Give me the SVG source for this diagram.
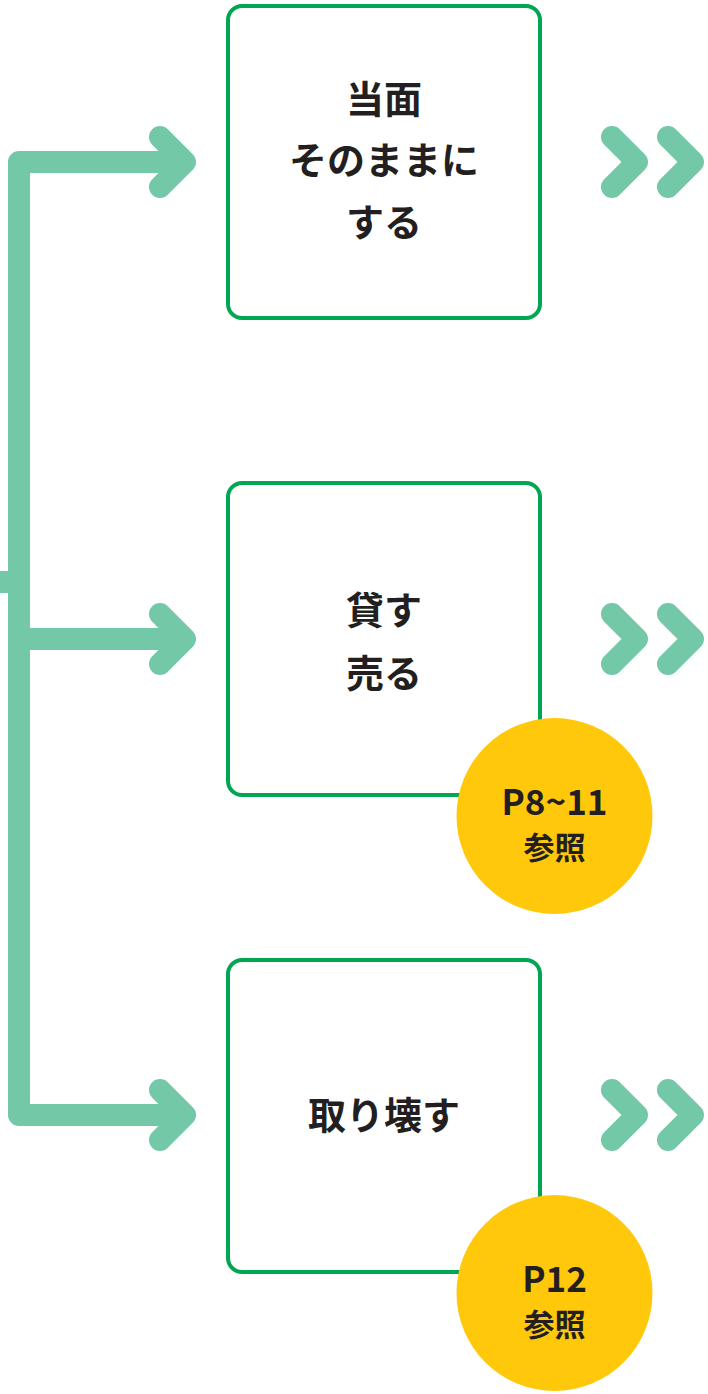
<svg xmlns="http://www.w3.org/2000/svg" width="708" height="1394" viewBox="0 0 708 1394">
<style>
.conn{fill:none;stroke:#72C8A7;stroke-width:22;stroke-linecap:round;stroke-linejoin:round}
.stub{fill:none;stroke:#72C8A7;stroke-width:22}
.box{fill:#fff;stroke:#00A651;stroke-width:4}
.lbl{font-family:"Noto Sans CJK JP","Noto Sans",sans-serif;font-weight:700;font-size:38px;fill:#231F20;text-anchor:middle}
.badge{fill:#FFC80B}
.bt1{font-family:"Noto Sans CJK JP","Noto Sans",sans-serif;font-weight:700;font-size:35px;fill:#231F20;text-anchor:middle}
.bt2{font-family:"Noto Sans CJK JP","Noto Sans",sans-serif;font-weight:700;font-size:31px;fill:#231F20;text-anchor:middle}
</style>
<rect width="708" height="1394" fill="#fff"/>
<g id="connectors">
<line class="stub" x1="0" y1="582" x2="19" y2="582"/>
<path class="conn" d="M183 162 H19 V1115 H183"/>
<line class="conn" x1="19" y1="639" x2="183" y2="639"/>
<path class="conn" d="M160 137 L185 162 L160 187"/>
<path class="conn" d="M160 614 L185 639 L160 664"/>
<path class="conn" d="M160 1090 L185 1115 L160 1140"/>
<path class="conn" d="M612 137 L637 162 L612 187"/>
<path class="conn" d="M668 137 L693 162 L668 187"/>
<path class="conn" d="M612 614 L637 639 L612 664"/>
<path class="conn" d="M668 614 L693 639 L668 664"/>
<path class="conn" d="M612 1090 L637 1115 L612 1140"/>
<path class="conn" d="M668 1090 L693 1115 L668 1140"/>
</g>
<g id="node1">
<rect class="box" x="228" y="6" width="312" height="312" rx="14"/>
<text class="lbl" x="384" y="113">当面</text>
<text class="lbl" x="384" y="174">そのままに</text>
<text class="lbl" x="384" y="236">する</text>
</g>
<g id="node2">
<rect class="box" x="228" y="483" width="312" height="312" rx="14"/>
<text class="lbl" x="384" y="624">貸す</text>
<text class="lbl" x="384" y="687">売る</text>
</g>
<g id="node3">
<rect class="box" x="228" y="960" width="312" height="312" rx="14"/>
<text class="lbl" x="384" y="1129">取り壊す</text>
</g>
<g id="badge1">
<circle class="badge" cx="554.5" cy="816" r="98"/>
<text class="bt1" x="554.5" y="815">P8~11</text>
<text class="bt2" x="554.5" y="859">参照</text>
</g>
<g id="badge2">
<circle class="badge" cx="554.5" cy="1293" r="98"/>
<text class="bt1" x="554.5" y="1292">P12</text>
<text class="bt2" x="554.5" y="1336">参照</text>
</g>
</svg>
